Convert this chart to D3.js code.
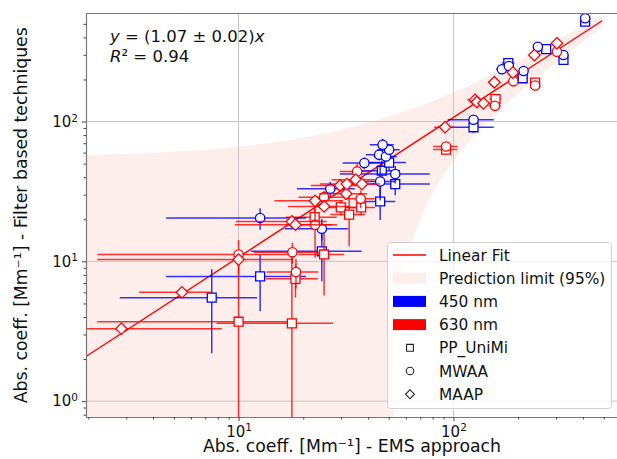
<!DOCTYPE html>
<html>
<head>
<meta charset="utf-8">
<script src="https://cdn.jsdelivr.net/npm/d3@7"></script>
<style>
  body { margin: 0; background: #fff; }
  text { font-family: "DejaVu Sans", sans-serif; fill: #111; }
</style>
</head>
<body>
<div id="chart"></div>
<script>
// points: [x, y, xerr, yerr]
var pp450 = [
  [7.5, 5.5, 4.7, 3.3], [12.6, 7.8, 8, 3.4], [24.4, 11.8, 13, 4.6], [45.6, 26.8, 8, 7],
  [46.4, 44.5, 10, 8], [50.2, 50.9, 10, 6], [53.6, 35.7, 24, 6], [124, 91, 30, 8],
  [180, 262, 12, 15], [210, 204, 12, 12], [270, 330, 12, 15], [325, 276, 12, 15],
  [410, 518, 15, 20]
];
var pp630 = [
  [10.0, 3.7, 7.8, 7], [17.7, 3.6, 9.8, 8], [18.4, 7.5, 5, 2], [22.6, 20.7, 6, 3],
  [25.0, 11.2, 6, 5.5], [29.9, 24.3, 6, 3], [32.7, 21.6, 6, 8.8], [37.2, 24.3, 6, 3],
  [92.4, 63, 12, 4], [157, 145, 10, 8], [240, 190, 10, 8]
];
var mwaa450 = [
  [12.6, 20.4, 8, 3.6], [24.4, 17.1, 8, 3], [26.7, 33.0, 8, 4], [38.5, 50.5, 8, 5],
  [45.1, 57.8, 6, 5], [48.5, 56.2, 6, 5], [50.2, 62.8, 6, 6], [46.8, 68.2, 6, 7],
  [45.6, 37.3, 8, 10], [53.6, 42.1, 24, 6], [124, 103, 30, 8], [168, 237, 10, 15],
  [181, 250, 10, 15], [212, 230, 10, 12], [247, 343, 10, 15], [325, 299, 12, 15],
  [410, 548, 15, 20]
];
var mwaa630 = [
  [10.0, 11.2, 7.8, 3], [17.8, 11.6, 6, 2], [18.5, 8.4, 5, 2], [22.7, 18.3, 6, 7.7],
  [25.0, 28.8, 6, 3], [35.6, 44.0, 6, 6], [37.0, 28.0, 6, 4], [92.4, 66.3, 12, 4],
  [156, 129.5, 10, 8], [190, 194, 10, 10], [240, 181, 10, 8], [303, 316, 15, 15]
];
var maap630 = [
  [2.85, 3.3, 5.5, 0.3], [5.45, 6.0, 2.0, 0.4], [10.0, 10.3, 7.8, 1.0], [17.7, 19.3, 8, 1.5],
  [18.4, 18.3, 8.8, 1.5], [22.7, 27.1, 8, 2], [25.0, 24.7, 8, 2], [29.7, 34.9, 8, 3],
  [31.7, 30.5, 8, 3], [31.9, 35.7, 8, 3], [35.1, 38.4, 8, 3], [37.5, 35.7, 8, 3],
  [91.4, 91.2, 10, 5], [126, 143, 10, 8], [128.5, 138, 10, 8], [138, 135, 10, 8],
  [155, 191, 10, 8], [189, 224, 10, 10], [238, 299, 10, 10], [303, 363, 15, 15]
];

// fit y = slope * x and its 95% prediction band
var fitSlope = 1.07;
var fitRange = [1.9, 492];
var bandX     = [1.9, 5, 10, 20, 40, 52, 53, 55, 57, 60, 70, 80, 100, 150, 200, 300, 400, 492];
var bandUpper = [57.7, 60.7, 66, 76.7, 98, 110.6, 111.7, 113.9, 116, 119, 130, 140.5, 161.5, 215, 269, 376, 483, 582];
var bandLower = [0, 0, 0, 0, 0, 0.64, 1.7, 3.85, 6.0, 9.2, 19.9, 30.6, 52, 105.5, 159, 266, 373, 471];

var xMajor = [10, 100];
var yMajor = [1, 10, 100];
var xMinor = [2, 3, 4, 5, 6, 7, 8, 9, 20, 30, 40, 50, 60, 70, 80, 90, 200, 300, 400, 500];
var yMinor = [0.8, 0.9, 2, 3, 4, 5, 6, 7, 8, 9, 20, 30, 40, 50, 60, 70, 80, 90, 200, 300, 400, 500];
var legendLabels = ["Linear Fit", "Prediction limit (95%)", "450 nm", "630 nm", "PP_UniMi", "MWAA", "MAAP"];

var BLUE = "#0000ff", RED = "#ff0000", BAND = "#fdeeec";

var width = 617, height = 459;
var pLeft = 86, pRight = 618, pTop = 13.5, pBottom = 417;

var x = d3.scaleLog().domain([1.95, 583]).range([pLeft, pRight]);
var y = d3.scaleLog().domain([0.77, 593]).range([pBottom, pTop]);

var svg = d3.select("#chart").append("svg")
    .attr("width", width)
    .attr("height", height);

svg.append("defs").append("clipPath").attr("id", "clip")
  .append("rect")
    .attr("x", pLeft).attr("y", pTop)
    .attr("width", pRight - pLeft).attr("height", pBottom - pTop);

var plot = svg.append("g").attr("clip-path", "url(#clip)");

// prediction band
var band = bandX.map(function(v, i) { return {x: v, lo: bandLower[i], hi: bandUpper[i]}; });
plot.append("path")
    .datum(band)
    .attr("fill", BAND)
    .attr("d", d3.area()
      .x(function(d) { return x(d.x); })
      .y0(function(d) { return y(Math.max(d.lo, 0.5)); })
      .y1(function(d) { return y(d.hi); })
      .curve(d3.curveMonotoneX));

// grid
plot.selectAll(".gx").data(xMajor).enter().append("line")
    .attr("x1", function(d) { return x(d); }).attr("x2", function(d) { return x(d); })
    .attr("y1", pTop).attr("y2", pBottom)
    .attr("stroke", "#c4c4c4").attr("stroke-width", 1);
plot.selectAll(".gy").data(yMajor).enter().append("line")
    .attr("y1", function(d) { return y(d); }).attr("y2", function(d) { return y(d); })
    .attr("x1", pLeft).attr("x2", pRight)
    .attr("stroke", "#c4c4c4").attr("stroke-width", 1);

// fit line
plot.append("line")
    .attr("x1", x(fitRange[0])).attr("y1", y(fitSlope * fitRange[0]))
    .attr("x2", x(fitRange[1])).attr("y2", y(fitSlope * fitRange[1]))
    .attr("stroke", RED).attr("stroke-width", 1.4);

var symSquare = d3.symbol(d3.symbolSquare, 80);
var symDiamond = d3.symbol(d3.symbolSquare, 66);
var symCircle = d3.symbol(d3.symbolCircle, 68);

function clampV(v) { return Math.max(v, 0.3); }

function drawSeries(data, color, shape) {
  var g = plot.append("g");
  var bars = g.selectAll("g.bar").data(data).enter().append("g")
      .attr("stroke", color).attr("stroke-opacity", 0.8).attr("stroke-width", 1.5);
  bars.append("line")
      .attr("x1", function(d) { return x(clampV(d[0] - d[2])); })
      .attr("x2", function(d) { return x(d[0] + d[2]); })
      .attr("y1", function(d) { return y(d[1]); })
      .attr("y2", function(d) { return y(d[1]); });
  bars.append("line")
      .attr("x1", function(d) { return x(d[0]); })
      .attr("x2", function(d) { return x(d[0]); })
      .attr("y1", function(d) { return y(clampV(d[1] - d[3])); })
      .attr("y2", function(d) { return y(d[1] + d[3]); });

  var sym = shape === "square" ? symSquare : shape === "circle" ? symCircle : symDiamond;
  g.selectAll("path.m").data(data).enter().append("path")
      .attr("class", "m")
      .attr("d", sym)
      .attr("transform", function(d) {
        return "translate(" + x(d[0]) + "," + y(d[1]) + ")" + (shape === "diamond" ? " rotate(45)" : "");
      })
      .attr("fill", "#fff")
      .attr("stroke", color)
      .attr("stroke-width", 1.3);
}

drawSeries(pp450, BLUE, "square");
drawSeries(pp630, RED, "square");
drawSeries(mwaa450, BLUE, "circle");
drawSeries(mwaa630, RED, "circle");
drawSeries(maap630, RED, "diamond");

// axes
function supLabels(sel) {
  sel.selectAll(".tick text").each(function(d) {
    var t = d3.select(this).text(null);
    t.append("tspan").text("10");
    t.append("tspan").attr("dy", "-0.5em").attr("font-size", "10.5px").text(Math.round(Math.log10(d)));
  });
}

var xAxis = svg.append("g")
    .attr("transform", "translate(0," + pBottom + ")")
    .call(d3.axisBottom(x).tickValues(xMajor).tickSize(4).tickSizeOuter(0).tickPadding(5));
xAxis.call(supLabels);
svg.append("g")
    .attr("transform", "translate(0," + pBottom + ")")
    .call(d3.axisBottom(x).tickValues(xMinor).tickSize(2.5).tickSizeOuter(0).tickFormat(""))
    .select(".domain").remove();

var yAxis = svg.append("g")
    .attr("transform", "translate(" + pLeft + ",0)")
    .call(d3.axisLeft(y).tickValues(yMajor).tickSize(4).tickSizeOuter(0).tickPadding(4));
yAxis.call(supLabels);
svg.append("g")
    .attr("transform", "translate(" + pLeft + ",0)")
    .call(d3.axisLeft(y).tickValues(yMinor).tickSize(2.5).tickSizeOuter(0).tickFormat(""))
    .select(".domain").remove();

svg.selectAll(".tick text").attr("font-size", "15px").attr("font-family", "DejaVu Sans").attr("fill", "#111");
svg.selectAll(".tick line").attr("stroke", "#444");
svg.selectAll(".domain").attr("stroke", "#777").attr("stroke-width", 1.2);

svg.append("line")
    .attr("x1", pLeft).attr("x2", pRight).attr("y1", pTop).attr("y2", pTop)
    .attr("stroke", "#777").attr("stroke-width", 1.2);

// axis titles
svg.append("text")
    .attr("x", (pLeft + pRight) / 2).attr("y", 452)
    .attr("text-anchor", "middle").attr("font-size", "17.3px")
    .text("Abs. coeff. [Mm\u207B\u00B9] - EMS approach");
svg.append("text")
    .attr("transform", "translate(27," + (pTop + pBottom) / 2 + ") rotate(-90)")
    .attr("text-anchor", "middle").attr("font-size", "17.3px")
    .text("Abs. coeff. [Mm\u207B\u00B9] - Filter based techniques");

// fit annotation
var eq = svg.append("text").attr("x", 110).attr("y", 42).attr("font-size", "16.5px");
eq.append("tspan").attr("font-style", "italic").text("y");
eq.append("tspan").text(" = (1.07 \u00B1 0.02)");
eq.append("tspan").attr("font-style", "italic").text("x");
var r2 = svg.append("text").attr("x", 110).attr("y", 62).attr("font-size", "16.5px");
r2.append("tspan").attr("font-style", "italic").text("R");
r2.append("tspan").text("\u00B2 = 0.94");

// legend
var leg = svg.append("g");
leg.append("rect")
    .attr("x", 387.5).attr("y", 242.5).attr("width", 224).attr("height", 166).attr("rx", 3)
    .attr("fill", "#fff").attr("fill-opacity", 0.8)
    .attr("stroke", "#d0d0d0").attr("stroke-width", 1);

var rowY = function(i) { return 255 + i * 23.2; };
legendLabels.forEach(function(label, i) {
  var cy = rowY(i);
  if (i === 0) {
    leg.append("line").attr("x1", 393).attr("x2", 426).attr("y1", cy).attr("y2", cy)
        .attr("stroke", RED).attr("stroke-width", 1.4);
  } else if (i <= 3) {
    leg.append("rect").attr("x", 393).attr("y", cy - 5.5).attr("width", 33).attr("height", 11)
        .attr("fill", [null, BAND, BLUE, RED][i]);
  } else {
    var s = i === 4 ? d3.symbol(d3.symbolSquare, 46) : i === 5 ? d3.symbol(d3.symbolCircle, 44) : d3.symbol(d3.symbolSquare, 40);
    leg.append("path").attr("d", s)
        .attr("transform", "translate(410," + cy + ")" + (i === 6 ? " rotate(45)" : ""))
        .attr("fill", "none").attr("stroke", "#222").attr("stroke-width", 1.1);
  }
  leg.append("text").attr("x", 439).attr("y", cy).attr("dy", "0.36em")
      .attr("font-size", "15.4px").text(label);
});
</script>
</body>
</html>
